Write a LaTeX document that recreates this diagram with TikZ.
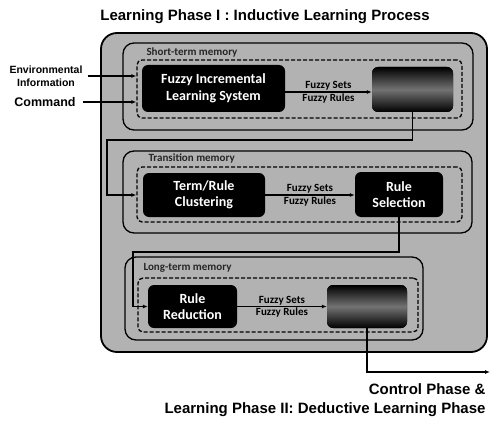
\documentclass[tikz,border=0pt]{standalone}
\usepackage{fontspec}
\setmainfont{Liberation Sans}
\newfontfamily\boxfont{Carlito}
\usetikzlibrary{arrows.meta, positioning}

\tikzset{
  outerbox/.style={draw=black, line width=1.8pt, fill=black!30, rounded corners=16pt},
  memory/.style={draw=black, line width=1.3pt, fill=black!30, rounded corners=11pt},
  dashbox/.style={draw=black, line width=1.3pt, dash pattern=on 4pt off 2pt, fill=black!30, rounded corners=5pt},
  darkbox/.style={fill=black, rounded corners=6pt, text=white, align=center,
    font=\boxfont\bfseries\fontsize{14}{16.5}\selectfont, inner sep=0pt},
  blurbox/.style={darkbox, top color=black, bottom color=black, middle color=black!55},
  memlabel/.style={anchor=west, font=\boxfont\bfseries\fontsize{11}{12}\selectfont, text=black!85},
  flowlabel/.style={font=\boxfont\bfseries\fontsize{11}{12}\selectfont, inner sep=1pt},
  bigtext/.style={font=\bfseries\fontsize{15}{17}\selectfont},
  flow/.style={line width=1.1pt, -{Latex[length=5pt, width=4pt]}}
}

\begin{document}
\begin{tikzpicture}[x=1pt, y=-1pt]
    \useasboundingbox (0,0) rectangle (492,425);

    % title
    \node[bigtext] (title) at (265,17) {Learning Phase I : Inductive Learning Process};

    % outer frame and the three memories
    \node[outerbox, minimum width=386pt, minimum height=319pt] (frame) at (294,192.5) {};
    \node[memory, minimum width=350pt, minimum height=87pt] (stm) at (298,86.5) {};
    \node[memory, minimum width=349pt, minimum height=82pt] (trm) at (297.5,192) {};
    \node[memory, minimum width=298pt, minimum height=83pt] (ltm) at (274,298.5) {};

    \node[memlabel] (stmlabel) at (143,53) {Short-term memory};
    \node[memlabel] (trmlabel) at (145,158) {Transition memory};
    \node[memlabel] (ltmlabel) at (140,268) {Long-term memory};

    % dashed inner areas
    \node[dashbox, minimum width=325pt, minimum height=58pt] (stdash) at (299.5,89) {};
    \node[dashbox, minimum width=325pt, minimum height=55pt] (trdash) at (299.5,194.5) {};
    \node[dashbox, minimum width=280pt, minimum height=54pt] (ltdash) at (278,305) {};

    % short-term memory
    \node[darkbox, minimum width=143pt, minimum height=47pt] (fils) at (213.5,88.5) {Fuzzy Incremental\\Learning System};
    \node[blurbox, minimum width=81pt, minimum height=45pt] (strb) at (412.5,89.5) {};

    % transition memory
    \node[darkbox, minimum width=122pt, minimum height=44pt] (trc) at (204,195) {Term/Rule\\Clustering};
    \node[darkbox, minimum width=88pt, minimum height=45pt] (rsel) at (399,194.5) {Rule\\Selection};

    % long-term memory
    \node[darkbox, minimum width=89pt, minimum height=43pt] (rred) at (192.5,306.5) {Rule\\Reduction};
    \node[blurbox, minimum width=80pt, minimum height=43pt] (ltrb) at (367,306.5) {};

    % inputs
    \node[align=center, font=\bfseries\fontsize{10.5}{13}\selectfont] (envinfo) at (46,76) {Environmental\\Information};
    \node[font=\bfseries\fontsize{12.5}{14}\selectfont] (cmd) at (45,102) {Command};
    \draw[flow] (envinfo.east) ++(2pt,0) -- (envinfo.east -| stdash.west);
    \draw[flow] (cmd.east) ++(4pt,0) -- (cmd.east -| stdash.west);

    % fuzzy sets / rules between the boxes
    \draw[flow] (fils.east |- 0,92) -- (strb.west |- 0,92)
        node[flowlabel, midway, above] (fs1) {Fuzzy Sets}
        node[flowlabel, midway, below] (fr1) {Fuzzy Rules};
    \draw[flow] (trc.east) -- (trc.east -| rsel.west)
        node[flowlabel, midway, above] (fs2) {Fuzzy Sets}
        node[flowlabel, midway, below] (fr2) {Fuzzy Rules};
    \draw[flow] (rred.east) -- (rred.east -| ltrb.west)
        node[flowlabel, midway, above] (fs3) {Fuzzy Sets}
        node[flowlabel, midway, below] (fr3) {Fuzzy Rules};

    % transfers between memories
    \coordinate (bendA) at (107,140);
    \coordinate (bendB) at (133,252);
    \draw[flow] (strb.south) |- (bendA) |- (trc.west -| trdash.west);
    \draw[flow] (rsel.south) |- (bendB) |- (rred.west);

    % output
    \coordinate (outend) at (490,372);
    \draw[flow] (ltrb.south) |- (outend);
    \node[bigtext, anchor=east] (ctrl) at (489,389) {Control Phase \&};
    \node[bigtext, anchor=east] (deduct) at (489,410) {Learning Phase II: Deductive Learning Phase};
\end{tikzpicture}
\end{document}
